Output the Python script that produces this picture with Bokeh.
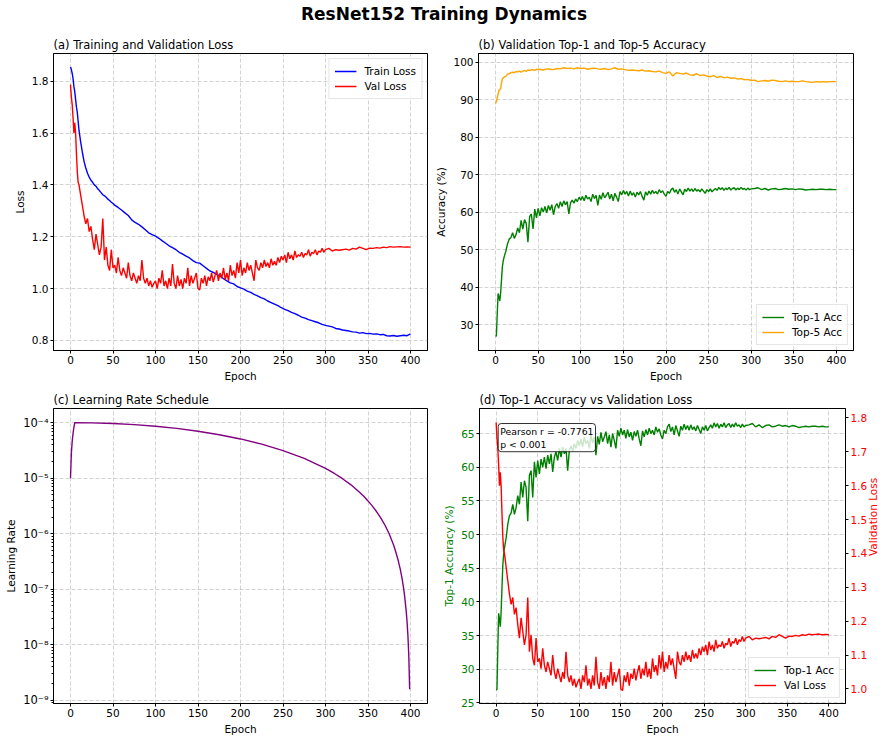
import math
from bokeh.plotting import figure
from bokeh.models import (Range1d, LinearAxis, FixedTicker, CustomJSTickFormatter, Label, Div,
                          PrintfTickFormatter)
from bokeh.layouts import column, row
from bokeh.embed import file_html
from bokeh.resources import INLINE

FONT = "DejaVu Sans"

# ---------------- data ----------------
# epochs at which the smooth series were read
epochs = list(range(0, 11)) + list(range(12, 51, 2)) + list(range(52, 401, 4))
# epochs at which the noisy series (top-1 acc, val loss) were read
epochs_fine = list(range(0, 11)) + list(range(12, 301, 2)) + list(range(304, 401, 4))

train_loss = [1.855, 1.845, 1.83, 1.81, 1.78, 1.76, 1.73, 1.70, 1.68, 1.645, 1.61,
              1.565, 1.525, 1.49, 1.465, 1.445, 1.43, 1.418, 1.41, 1.40, 1.395,
              1.385, 1.378, 1.37, 1.362, 1.358, 1.352, 1.345, 1.34, 1.333, 1.328,
              1.322, 1.313, 1.303, 1.292, 1.282, 1.265, 1.255, 1.248, 1.238, 1.227, 1.215, 1.208,
              1.202, 1.194, 1.184, 1.175, 1.165, 1.158, 1.15, 1.14, 1.133, 1.125, 1.118, 1.108,
              1.10, 1.098, 1.088, 1.078, 1.068, 1.062, 1.055, 1.048, 1.038, 1.03, 1.022, 1.018,
              1.008, 1.003, 0.998, 0.99, 0.985, 0.978, 0.972, 0.965, 0.96, 0.952, 0.946, 0.94,
              0.934, 0.926, 0.92, 0.915, 0.908, 0.903, 0.897, 0.89, 0.886, 0.88, 0.876, 0.872,
              0.868, 0.862, 0.858, 0.855, 0.852, 0.846, 0.844, 0.84, 0.838, 0.836, 0.833, 0.832,
              0.828, 0.83, 0.826, 0.827, 0.824, 0.825, 0.822, 0.823, 0.818, 0.817, 0.819, 0.816,
              0.818, 0.82, 0.818, 0.825]

top5_acc = [89.0, 89.5, 90.5, 91.5, 92.5, 92.6, 93.0, 94.5, 95.5, 95.8, 96.0,
            96.2, 96.8, 96.9, 97.2, 97.3, 97.2, 97.5, 97.4, 97.6, 97.3,
            97.6, 97.8, 97.5, 97.9, 97.8, 97.9, 98.0, 97.8, 98.1, 98.0,
            98.1, 97.9, 98.2, 98.1, 98.0, 98.3, 98.2, 98.5, 98.3, 98.4, 98.2, 98.5,
            98.3, 98.4, 98.1, 98.3, 98.4, 98.2, 98.1, 98.3, 98.0, 98.2, 98.5, 98.1,
            98.2, 98.0, 97.8, 97.9, 97.8, 97.7, 97.9, 97.6, 97.7, 97.5, 97.4, 97.6,
            97.2, 97.0, 97.4, 96.3, 97.2, 97.0, 96.8, 97.1, 96.6, 96.5, 96.9, 96.4,
            96.6, 96.3, 96.1, 96.4, 95.9, 96.2, 95.8, 96.0, 95.7, 95.8, 95.5, 95.6,
            95.3, 95.4, 95.1, 95.2, 94.8, 95.0, 95.1, 94.9, 95.2, 95.1, 94.9, 94.8,
            95.0, 94.8, 94.9, 94.8, 94.8, 95.0, 94.8, 94.7, 94.6, 94.8, 94.7, 94.8,
            94.7, 94.8, 94.8, 94.8]

val_loss = [1.787, 1.74, 1.71, 1.66, 1.60, 1.64, 1.60, 1.52, 1.45, 1.41, 1.40,
            1.36, 1.32, 1.28, 1.25, 1.27, 1.22, 1.24, 1.19, 1.15, 1.21,
            1.17, 1.13, 1.16, 1.27, 1.11, 1.16, 1.09, 1.07, 1.15, 1.08,
            # 52 .. 100
            1.09, 1.06, 1.12, 1.07, 1.05, 1.08, 1.06, 1.04, 1.10, 1.05, 1.03, 1.06, 1.04,
            1.02, 1.05, 1.03, 1.11, 1.04, 1.02, 1.04, 1.01, 1.03, 1.005, 1.02, 1.03,
            # 102 .. 150
            1.00, 1.04, 1.02, 1.07, 1.01, 1.03, 1.0, 1.04, 1.01, 1.095, 1.02, 1.0, 1.05,
            1.01, 1.035, 1.0, 1.04, 1.02, 1.08, 1.01, 1.05, 1.02, 1.04, 1.06, 1.0,
            # 152 .. 200
            0.995, 1.04, 1.02, 1.05, 1.01, 1.045, 1.03, 1.06, 1.025, 1.05, 1.07, 1.03, 1.06,
            1.04, 1.08, 1.035, 1.06, 1.03, 1.09, 1.05, 1.07, 1.04, 1.10, 1.06, 1.11,
            # 202 .. 250
            1.05, 1.08, 1.06, 1.10, 1.07, 1.09, 1.06, 1.03, 1.11, 1.08, 1.07, 1.10, 1.08,
            1.11, 1.085, 1.10, 1.08, 1.115, 1.09, 1.105, 1.09, 1.12, 1.10, 1.125, 1.11,
            # 252 .. 300
            1.13, 1.10, 1.14, 1.115, 1.13, 1.11, 1.145, 1.12, 1.13, 1.125, 1.14, 1.12, 1.135,
            1.13, 1.15, 1.125, 1.14, 1.135, 1.15, 1.13, 1.145, 1.14, 1.155, 1.14, 1.15,
            # 304 .. 400
            1.155, 1.145, 1.15, 1.148, 1.15, 1.152, 1.148, 1.155, 1.152, 1.16, 1.155, 1.15,
            1.156, 1.155, 1.158, 1.156, 1.16, 1.158, 1.162, 1.16, 1.161, 1.162, 1.16, 1.161, 1.16]

top1_acc = [26.9, 27.0, 33.0, 38.3, 37.5, 36.3, 38.5, 42.0, 45.4, 47.0, 48.0,
            49.5, 51.5, 52.8, 53.2, 54.5, 53.0, 54.0, 55.8, 54.5, 57.8,
            55.5, 58.0, 57.0, 52.0, 58.8, 59.5, 55.5, 60.8, 58.5, 61.0,
            # 52 .. 100
            59.0, 61.2, 60.0, 61.5, 59.8, 61.8, 60.5, 62.0, 59.3, 61.5, 62.3, 61.0, 62.8,
            61.5, 63.0, 62.0, 62.8, 59.5, 62.5, 63.2, 62.4, 63.5, 62.8, 64.0, 63.2,
            # 102 .. 150
            64.2, 63.0, 64.5, 63.5, 64.0, 62.8, 64.8, 63.6, 64.5, 61.8, 64.6, 63.4, 65.2,
            63.8, 64.5, 65.3, 63.5, 64.8, 63.0, 65.0, 64.0, 62.8, 65.5, 64.6, 65.8,
            # 152 .. 200
            64.8, 65.5, 64.3, 65.6, 64.5, 65.2, 64.0, 65.3, 64.6, 65.5, 64.2, 63.2, 65.4,
            64.5, 65.6, 64.8, 65.8, 65.0, 65.5, 64.8, 66.0, 65.2, 65.7, 64.8, 64.2,
            # 202 .. 250
            65.5, 65.0, 66.0, 66.4, 65.3, 66.0, 64.8, 66.2, 65.4, 64.6, 66.1, 65.5, 66.4,
            65.6, 66.2, 65.5, 66.3, 65.6, 66.0, 65.4, 66.2, 65.6, 65.0, 66.0, 65.5,
            # 252 .. 300
            66.2, 65.4, 65.9, 66.3, 65.8, 66.6, 66.0, 66.5, 65.8, 66.4, 66.0, 66.6, 65.9,
            66.3, 66.5, 65.9, 66.4, 66.0, 66.6, 66.1, 66.3, 65.9, 66.4, 66.0, 66.2,
            # 304 .. 400
            66.3, 66.5, 66.0, 66.3, 65.9, 66.2, 66.3, 66.0, 66.1, 66.3, 66.1, 66.2,
            66.0, 66.2, 66.1, 65.9, 66.0, 66.1, 66.0, 66.1, 66.1, 66.0, 66.1, 66.0, 66.0]

lr_epochs = [0, 1, 2, 3, 4, 5, 25, 50, 75, 100, 125, 150, 175, 200, 225, 250, 275,
             300, 310, 320, 330, 340, 345, 350, 355, 360, 365, 370, 375, 380, 382,
             385, 388, 390, 392, 393, 395, 396, 397, 398, 399]
lr_values = [1.0e-5, 2.8e-5, 4.6e-5, 6.4e-5, 8.2e-5, 1.0e-4, 9.94e-5, 9.68e-5, 9.25e-5,
             8.64e-5, 7.89e-5, 7.03e-5, 6.08e-5, 5.1e-5, 4.11e-5, 3.15e-5, 2.27e-5,
             1.5e-5, 1.23e-5, 9.8e-6, 7.6e-6, 5.6e-6, 4.72e-6, 3.9e-6, 3.17e-6, 2.51e-6,
             1.93e-6, 1.42e-6, 9.9e-7, 6.31e-7, 5.1e-7, 3.55e-7, 2.28e-7, 1.58e-7, 1.01e-7,
             7.75e-8, 3.95e-8, 2.53e-8, 1.42e-8, 6.3e-9, 1.58e-9]

x_ticks = [0, 50, 100, 150, 200, 250, 300, 350, 400]
loss_ticks = [0.8, 1.0, 1.2, 1.4, 1.6, 1.8]
acc_ticks = [30, 40, 50, 60, 70, 80, 90, 100]
lr_ticks = [1e-9, 1e-8, 1e-7, 1e-6, 1e-5, 1e-4]
top1_ticks = [25, 30, 35, 40, 45, 50, 55, 60, 65]
vloss_ticks = [1.0, 1.1, 1.2, 1.3, 1.4, 1.5, 1.6, 1.7, 1.8]
pearson_text = "Pearson r = -0.7761\np < 0.001"

# ---------------- styling helpers ----------------
def style_axis(ax, color="black"):
    ax.axis_line_color = "black"
    ax.major_tick_line_color = "black"
    ax.major_tick_out = 3
    ax.major_tick_in = 0
    ax.minor_tick_line_color = None
    ax.major_label_text_font = FONT
    ax.major_label_text_font_size = "10.5px"
    ax.major_label_standoff = 2
    ax.major_label_text_color = color
    ax.axis_label_text_font = FONT
    ax.axis_label_text_font_size = "10.5px"
    ax.axis_label_text_font_style = "normal"
    ax.axis_label_text_color = color
    ax.axis_label_standoff = 3


def make_fig(width, height, title, y_range, borders, y_axis_type="linear"):
    p = figure(width=width, height=height, title=title,
               x_range=Range1d(-20, 420), y_range=y_range, y_axis_type=y_axis_type,
               output_backend="svg", toolbar_location=None,
               min_border_left=borders[0], min_border_right=borders[1],
               min_border_top=borders[2], min_border_bottom=borders[3])
    p.title.text_font = FONT
    p.title.text_font_size = "11.5px"
    p.title.text_font_style = "normal"
    p.title.text_color = "black"
    p.title.align = "left"
    p.title.standoff = 4
    p.outline_line_color = "black"
    p.outline_line_alpha = 1.0
    p.outline_line_width = 1
    p.background_fill_color = "white"
    p.border_fill_color = "white"
    p.xaxis.ticker = FixedTicker(ticks=x_ticks)
    p.xaxis.axis_label = "Epoch"
    for ax in p.axis:
        style_axis(ax)
    p.grid.grid_line_color = "#b0b0b0"
    p.grid.grid_line_alpha = 0.7
    p.grid.grid_line_dash = "4 2"
    p.grid.grid_line_width = 0.8
    return p


def style_legend(p, location):
    lg = p.legend[0]
    lg.location = location
    lg.label_text_font = FONT
    lg.label_text_font_size = "10.5px"
    lg.label_text_color = "black"
    lg.label_height = 14
    lg.glyph_height = 14
    lg.glyph_width = 22
    lg.spacing = 1
    lg.padding = 5
    lg.margin = 5
    lg.label_standoff = 8
    lg.border_line_color = "#cccccc"
    lg.border_line_width = 1
    lg.background_fill_color = "white"
    lg.background_fill_alpha = 0.85


LW = 1.4
H1 = 357   # top row
H2 = 352   # bottom row

# (a) Training and Validation Loss
pa = make_fig(432, H1, "(a) Training and Validation Loss", Range1d(0.761, 1.907), (53, 5, 25, 35))
pa.yaxis.ticker = FixedTicker(ticks=loss_ticks)
pa.yaxis.formatter = PrintfTickFormatter(format="%.1f")
pa.yaxis.axis_label = "Loss"
pa.line(epochs, train_loss, line_color="blue", line_width=LW, legend_label="Train Loss")
pa.line(epochs_fine, val_loss, line_color="red", line_width=LW, legend_label="Val Loss")
style_legend(pa, "top_right")

# (b) Validation Top-1 and Top-5 Accuracy
pb = make_fig(456, H1, "(b) Validation Top-1 and Top-5 Accuracy", Range1d(23.1, 102.3), (45, 35, 25, 35))
pb.yaxis.ticker = FixedTicker(ticks=acc_ticks)
pb.yaxis.axis_label = "Accuracy (%)"
pb.line(epochs_fine, top1_acc, line_color="green", line_width=LW, legend_label="Top-1 Acc")
pb.line(epochs, top5_acc, line_color="orange", line_width=LW, legend_label="Top-5 Acc")
style_legend(pb, "bottom_right")

# (c) Learning Rate Schedule
pc = make_fig(440, H2, "(c) Learning Rate Schedule", Range1d(10 ** -9.059, 10 ** -3.744),
              (53, 13, 23, 32), y_axis_type="log")
minor = []
for e in range(-10, -3):
    for m in range(2, 10):
        minor.append(m * 10.0 ** e)
pc.yaxis.ticker = FixedTicker(ticks=lr_ticks, minor_ticks=minor)
pc.yaxis.formatter = CustomJSTickFormatter(code="""
const e = Math.round(Math.log10(tick));
const sup = {"-": "\u207b", "0": "\u2070", "1": "\u00b9", "2": "\u00b2", "3": "\u00b3",
             "4": "\u2074", "5": "\u2075", "6": "\u2076", "7": "\u2077", "8": "\u2078", "9": "\u2079"};
return "10" + String(e).split("").map(c => sup[c]).join("");
""")
pc.yaxis.major_label_text_font_size = "11.5px"
pc.yaxis.minor_tick_line_color = "black"
pc.yaxis.minor_tick_out = 2
pc.yaxis.minor_tick_in = 0
pc.yaxis.axis_label = "Learning Rate"
pc.line(lr_epochs, lr_values, line_color="purple", line_width=LW)

# (d) Top-1 Accuracy vs Validation Loss
pd_ = make_fig(448, H2, "(d) Top-1 Accuracy vs Validation Loss", Range1d(24.9, 68.73), (39, 35, 23, 32))
pd_.yaxis.ticker = FixedTicker(ticks=top1_ticks)
pd_.yaxis.axis_label = "Top-1 Accuracy (%)"
pd_.yaxis.major_label_text_color = "green"
pd_.yaxis.axis_label_text_color = "green"
pd_.extra_y_ranges = {"loss": Range1d(0.957, 1.828)}
ax_r = LinearAxis(y_range_name="loss", axis_label="Validation Loss",
                  ticker=FixedTicker(ticks=vloss_ticks),
                  formatter=PrintfTickFormatter(format="%.1f"))
style_axis(ax_r, "red")
try:
    ax_r.axis_label_orientation = math.pi / 2
except Exception:
    pass
pd_.add_layout(ax_r, "right")
pd_.line(epochs_fine, top1_acc, line_color="green", line_width=LW, legend_label="Top-1 Acc")
pd_.line(epochs_fine, val_loss, line_color="red", line_width=LW, y_range_name="loss", legend_label="Val Loss")
style_legend(pd_, "bottom_right")
lab = Label(x=2.5, y=66.5, text=pearson_text, text_font=FONT, text_font_size="9.3px",
            text_baseline="top", text_align="left", text_color="black",
            background_fill_color="white", background_fill_alpha=0.8,
            border_line_color="black", border_line_alpha=0.8, border_line_width=1,
            padding=2, border_radius=3)
pd_.add_layout(lab)

title = Div(text="ResNet152 Training Dynamics", width=888, height=28, margin=(0, 0, 0, 0),
            styles={"text-align": "center", "font-size": "17px", "font-weight": "bold",
                    "font-family": FONT, "line-height": "28px", "width": "888px"})

layout = column(title, row(pa, pb), row(pc, pd_))
open("out.html", "w").write(file_html(layout, INLINE))
